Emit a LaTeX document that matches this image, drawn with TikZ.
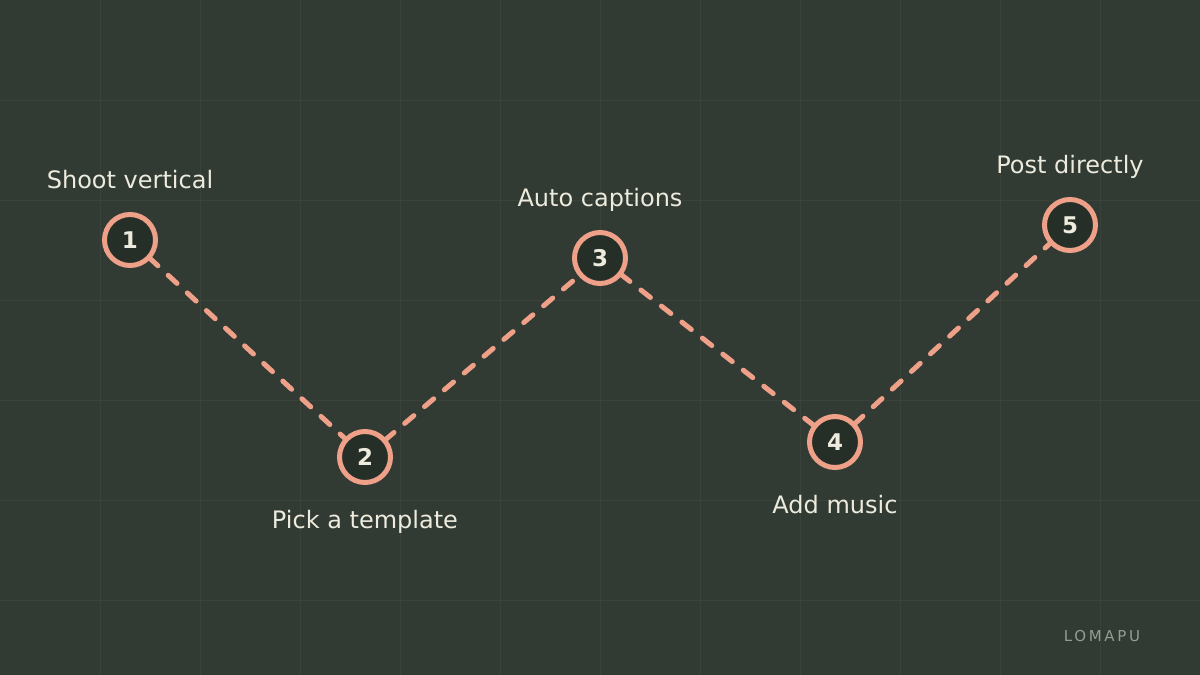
\documentclass[tikz,border=0pt]{standalone}
\usepackage{fontspec}
\setmainfont{DejaVu Sans}
\definecolor{bgc}{HTML}{323B33}
\definecolor{gridc}{HTML}{3A433A}
\definecolor{salmon}{HTML}{EFA088}
\definecolor{fillc}{HTML}{262E28}
\definecolor{txtc}{HTML}{ECEBDD}
\definecolor{markc}{HTML}{959C92}
\begin{document}
\begin{tikzpicture}[x=1pt,y=-1pt,
  stepnode/.style={circle,draw=salmon,line width=5pt,fill=fillc,minimum size=51pt,inner sep=0pt,
    text=txtc,font=\fontsize{23}{25}\selectfont\bfseries},
  lbl/.style={text=txtc,font=\fontsize{24}{28}\selectfont,anchor=base,inner sep=0pt},
  link/.style={salmon,line width=5pt,line cap=round,dash pattern=on 12pt off 14pt}]
\fill[bgc] (0,0) rectangle (1200,675);
\useasboundingbox (0,0) rectangle (1200,675);
\foreach \x in {100,200,...,1100} \draw[gridc,line width=1pt] (\x,0) -- (\x,675);
\foreach \y in {100,200,...,600} \draw[gridc,line width=1pt] (0,\y) -- (1200,\y);
\coordinate (c1) at (130,240);
\coordinate (c2) at (365,457);
\coordinate (c3) at (600,258);
\coordinate (c4) at (835,442);
\coordinate (c5) at (1070,225);
\draw[link] (c1) -- (c2);
\draw[link] (c2) -- (c3);
\draw[link] (c3) -- (c4);
\draw[link] (c4) -- (c5);
\node[stepnode] (n1) at (c1) {1};
\node[stepnode] (n2) at (c2) {2};
\node[stepnode] (n3) at (c3) {3};
\node[stepnode] (n4) at (c4) {4};
\node[stepnode] (n5) at (c5) {5};
\node[lbl] (l1) at (130,188) {Shoot vertical};
\node[lbl] (l2) at (365,528) {Pick a template};
\node[lbl] (l3) at (600,206) {Auto captions};
\node[lbl] (l4) at (835,513) {Add music};
\node[lbl] (l5) at (1070,173) {Post directly};
\node[text=markc,font=\fontsize{15}{17}\selectfont\addfontfeature{LetterSpace=18},anchor=base,inner sep=0pt] (brand) at (1102,641) {LOMAPU};
\end{tikzpicture}
\end{document}
